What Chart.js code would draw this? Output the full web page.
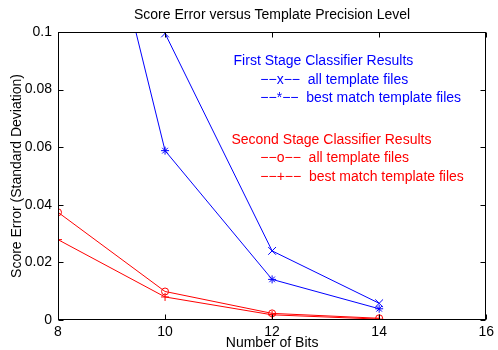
<!DOCTYPE html>
<html>
<head>
<meta charset="utf-8">
<script src="https://cdn.jsdelivr.net/npm/chart.js@4/dist/chart.umd.min.js"></script>
<style>
  body { margin: 0; background: #fff; }
  canvas { display: block; }
</style>
</head>
<body>
<canvas id="graph" width="498" height="350"></canvas>
<script>
// number of bits per template value
const bits = [8, 10, 12, 14];

// first stage classifier (blue)
const firstAll = [0.25, 0.0995, 0.024, 0.0058];
const firstBest = [0.21, 0.0588, 0.0141, 0.0039];

// second stage classifier (red)
const secondAll = [0.0374, 0.0099, 0.0023, 0.0006];
const secondBest = [0.0279, 0.008, 0.0018, 0.0003];

const xTicks = [8, 10, 12, 14, 16];
const yTicks = [0, 0.02, 0.04, 0.06, 0.08, 0.1];

// text notes inside the axes: [x, y, text, colour]
const notes = [
  [11.28, 0.0899, 'First Stage Classifier Results', '#0000ff'],
  [11.78, 0.0833, '\u2212\u2212x\u2212\u2212  all template files', '#0000ff'],
  [11.78, 0.0771, '\u2212\u2212*\u2212\u2212  best match template files', '#0000ff'],
  [11.24, 0.0625, 'Second Stage Classifier Results', '#ff0000'],
  [11.78, 0.0563, '\u2212\u2212o\u2212\u2212  all template files', '#ff0000'],
  [11.78, 0.0497, '\u2212\u2212+\u2212\u2212  best match template files', '#ff0000']
];

const FONT = '"Liberation Sans", Arial, Helvetica, sans-serif';

function series(values, color, style, radius) {
  return {
    data: bits.map((b, i) => ({ x: b, y: values[i] })),
    borderColor: color,
    borderWidth: 1,
    pointStyle: style,
    pointRadius: radius,
    pointBorderWidth: 1,
    pointBorderColor: color,
    pointBackgroundColor: 'rgba(0,0,0,0)',
    tension: 0
  };
}

// box round the axes with inward tick marks, plus the text notes
const axesBox = {
  id: 'axesBox',
  afterDatasetsDraw(chart) {
    const { ctx, chartArea: a, scales } = chart;
    const L = Math.round(a.left) + 0.5, R = Math.round(a.right) - 0.5;
    const T = Math.round(a.top) + 0.5, B = Math.round(a.bottom) - 0.5;
    ctx.save();
    ctx.strokeStyle = '#000';
    ctx.lineWidth = 1;
    ctx.strokeRect(L, T, R - L, B - T);
    ctx.beginPath();
    xTicks.forEach(v => {
      const px = Math.round(scales.x.getPixelForValue(v)) + 0.5;
      ctx.moveTo(px, B); ctx.lineTo(px, B - 5);
      ctx.moveTo(px, T); ctx.lineTo(px, T + 5);
    });
    yTicks.forEach(v => {
      const py = Math.round(scales.y.getPixelForValue(v)) + 0.5;
      ctx.moveTo(L, py); ctx.lineTo(L + 5, py);
      ctx.moveTo(R, py); ctx.lineTo(R - 5, py);
    });
    ctx.stroke();

    ctx.font = '14px ' + FONT;
    ctx.textAlign = 'left';
    ctx.textBaseline = 'middle';
    notes.forEach(([x, y, text, color]) => {
      ctx.fillStyle = color;
      ctx.fillText(text, scales.x.getPixelForValue(x), scales.y.getPixelForValue(y));
    });
    ctx.restore();
  }
};

Chart.defaults.font.family = FONT;
Chart.defaults.font.size = 14;
Chart.defaults.color = '#000';

new Chart(document.getElementById('graph'), {
  type: 'line',
  data: {
    datasets: [
      series(firstAll, '#0000ff', 'crossRot', 5.5),
      series(firstBest, '#0000ff', 'star', 4),
      series(secondAll, '#ff0000', 'circle', 3.5),
      series(secondBest, '#ff0000', 'cross', 4)
    ]
  },
  options: {
    responsive: false,
    animation: false,
    layout: { padding: { left: 0, right: 8, top: 0, bottom: 0 } },
    plugins: {
      legend: { display: false },
      tooltip: { enabled: false },
      title: {
        display: true,
        fullSize: false,
        text: 'Score Error versus Template Precision Level',
        color: '#000',
        font: { size: 14, weight: 'normal' },
        padding: { top: 6.6, bottom: 8.6 }
      }
    },
    scales: {
      x: {
        type: 'linear',
        min: 8,
        max: 16,
        afterBuildTicks: s => { s.ticks = xTicks.map(v => ({ value: v })); },
        afterFit: s => { s.height = 30; },
        grid: { display: false, drawTicks: false },
        border: { display: false },
        ticks: { padding: 4, maxRotation: 0, callback: v => String(v) },
        title: {
          display: true,
          text: 'Number of Bits',
          font: { lineHeight: 1 },
          padding: { top: 0, bottom: 0 }
        }
      },
      y: {
        type: 'linear',
        min: 0,
        max: 0.1,
        afterBuildTicks: s => { s.ticks = yTicks.map(v => ({ value: v })); },
        afterFit: s => { s.width = 58; },
        grid: { display: false, drawTicks: false },
        border: { display: false },
        ticks: { padding: 6, callback: v => String(v) },
        title: { display: true, text: 'Score Error (Standard Deviation)', padding: { top: 8.6, bottom: 0 } }
      }
    }
  },
  plugins: [axesBox]
});
</script>
</body>
</html>
